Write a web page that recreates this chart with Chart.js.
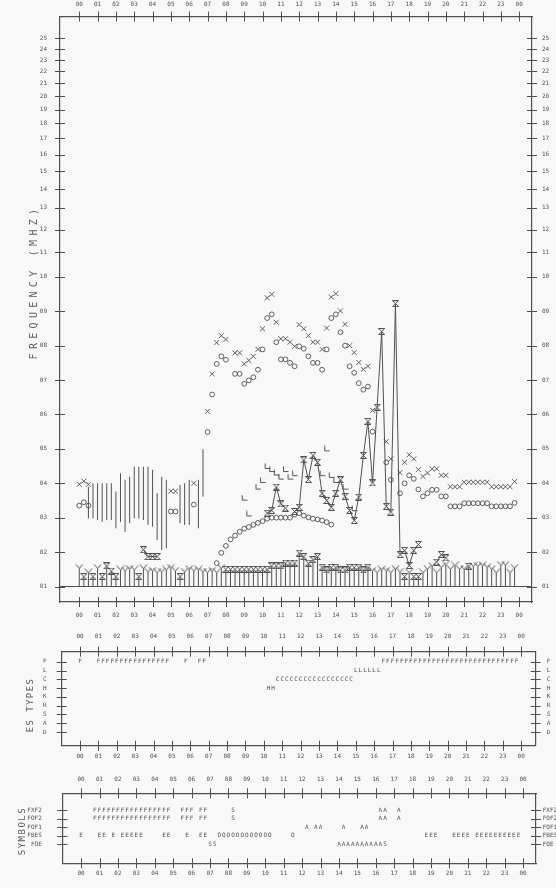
<!DOCTYPE html>
<html>
<head>
<meta charset="utf-8">
<title>Ionogram daily summary</title>
<script src="https://cdn.jsdelivr.net/npm/chart.js@4.4.1/dist/chart.umd.min.js"></script>
<style>
  html, body { margin: 0; padding: 0; background: #f8f8f8; }
  body { position: relative; width: 556px; height: 888px; overflow: hidden; }
  canvas { position: absolute; left: 0; }
  .axis-title {
    position: absolute;
    transform: translate(-50%, -50%) rotate(-90deg);
    white-space: nowrap;
    font-family: "DejaVu Sans Mono", monospace;
    color: #5c5c5c;
  }
</style>
</head>
<body>
<canvas id="ionogram" width="556" height="628" style="top:0"></canvas>
<canvas id="esTypes" width="556" height="138" style="top:628px"></canvas>
<canvas id="symbols" width="556" height="122" style="top:766px"></canvas>
<div class="axis-title" style="left:33px;top:282px;font-size:10px;letter-spacing:4.3px">FREQUENCY (MHZ)</div>
<div class="axis-title" style="left:30px;top:705px;font-size:9px;letter-spacing:1.4px">ES TYPES</div>
<div class="axis-title" style="left:22px;top:831px;font-size:9px;letter-spacing:1.5px">SYMBOLS</div>
<script>
// ---------------------------------------------------------------
// data: quarter-hourly values (96 slots, 00:00 .. 23:45), null = no reading
// ---------------------------------------------------------------
const hourTicks = [0, 1, 2, 3, 4, 5, 6, 7, 8, 9, 10, 11, 12, 13, 14, 15, 16, 17, 18, 19, 20, 21, 22, 23, 24];
const freqTicks = [1, 2, 3, 4, 5, 6, 7, 8, 9, 10, 11, 12, 13, 14, 15, 16, 17, 18, 19, 20, 21, 22, 23, 24, 25];
const esTypeNames = ['D', 'A', 'S', 'R', 'K', 'H', 'C', 'L', 'F'];
const symbolNames = ['FOE', 'FBES', 'FOF1', 'FOF2', 'FXF2'];

// fxF2 (x marks)
const fxF2 = [
  3.97, 4.06, 3.97, null,  null, null, null, null,  null, null, null, null,  null, null, null, null,
  null, null, null, null,  3.77, 3.77, null, null,  null, 4.00, null, null,  6.09, 7.18, 8.09, 8.29,
  8.18, null, 7.79, 7.79,  7.47, 7.57, 7.69, 7.89,  8.49, 9.39, 9.49, 8.68,  8.20, 8.20, 8.10, 7.98,
  8.61, 8.49, 8.29, 8.10,  8.10, 7.89, 8.51, 9.41,  9.51, 9.01, 8.62, 8.00,  7.80, 7.51, 7.31, 7.40,
  6.12, null, null, 5.21,  4.71, null, 4.31, 4.61,  4.83, 4.71, 4.40, 4.20,  4.30, 4.42, 4.42, 4.23,
  4.23, 3.90, 3.90, 3.90,  4.03, 4.03, 4.03, 4.03,  4.03, 4.03, 3.90, 3.90,  3.90, 3.90, 3.90, 4.05
];
// foF2 (circles)
const foF2 = [
  3.35, 3.45, 3.35, null,  null, null, null, null,  null, null, null, null,  null, null, null, null,
  null, null, null, null,  3.18, 3.18, null, null,  null, 3.38, null, null,  5.49, 6.58, 7.47, 7.69,
  7.59, null, 7.18, 7.18,  6.89, 6.99, 7.08, 7.30,  7.89, 8.80, 8.91, 8.10,  7.60, 7.60, 7.50, 7.40,
  7.98, 7.91, 7.69, 7.50,  7.50, 7.30, 7.89, 8.80,  8.91, 8.39, 8.00, 7.40,  7.21, 6.91, 6.72, 6.81,
  5.50, null, null, 4.61,  4.10, null, 3.71, 4.00,  4.23, 4.13, 3.82, 3.62,  3.71, 3.81, 3.81, 3.62,
  3.62, 3.33, 3.33, 3.33,  3.42, 3.42, 3.42, 3.42,  3.42, 3.42, 3.33, 3.33,  3.33, 3.33, 3.33, 3.43
];
// foF1 (circles, daytime arc)
const foF1 = [
  null, null, null, null,  null, null, null, null,  null, null, null, null,  null, null, null, null,
  null, null, null, null,  null, null, null, null,  null, null, null, null,  null, null, 1.68, 1.98,
  2.18, 2.37, 2.48, 2.59,  2.68, 2.73, 2.79, 2.85,  2.90, 2.97, 3.00, 3.00,  3.00, 3.00, 3.00, 3.09,
  3.13, 3.06, 3.01, 2.97,  2.95, 2.92, 2.87, 2.80,  null, null, null, null,  null, null, null, null,
  null, null, null, null,  null, null, null, null,  null, null, null, null,  null, null, null, null,
  null, null, null, null,  null, null, null, null,  null, null, null, null,  null, null, null, null
];
// foEs trace (hourglass marks joined by a line)
const foEs = [
  null, null, null, null,  null, null, null, null,  null, null, null, null,  null, null, 2.07, 1.87,
  1.87, 1.87, null, null,  null, null, null, null,  null, null, null, null,  null, null, null, null,
  null, null, null, null,  null, null, null, null,  null, 3.13, 3.21, 3.89,  3.40, 3.28, null, 3.18,
  3.30, 4.68, 4.11, 4.81,  4.61, 3.71, 3.50, 3.30,  3.71, 4.10, 3.62, 3.21,  2.92, 3.60, 4.81, 5.80,
  4.01, 6.21, 8.41, 3.33,  3.16, 9.22, 1.93, 2.05,  1.61, 2.05, 2.22, null,  null, null, 1.71, 1.93,
  1.83, null, null, null,  null, null, null, null,  null, null, null, null,  null, null, null, null
];
// h'-type marks drawn as small L
const lMarks = [
  null, null, null, null,  null, null, null, null,  null, null, null, null,  null, null, null, null,
  null, null, null, null,  null, null, null, null,  null, null, null, null,  null, null, null, null,
  null, null, null, null,  3.57, 3.11, null, 3.89,  4.08, 4.49, 4.40, 4.30,  4.18, 4.40, 4.18, 4.28,
  null, null, null, null,  null, 4.28, 5.00, 4.23,  4.08, null, 3.89, null,  3.26, null, null, null,
  null, null, null, null,  null, null, null, null,  null, null, null, null,  null, null, null, null,
  null, null, null, null,  null, null, null, null,  null, null, null, null,  null, null, null, null
];
// fmin (Y marks on stems from 1 MHz)
const fmin = [
  1.53, null, 1.40, null,  1.53, null, null, null,  null, 1.48, 1.45, 1.50,  1.48, null, 1.52, 1.42,
  1.45, 1.40, 1.42, 1.48,  1.53, 1.45, null, 1.42,  1.50, 1.45, 1.48, 1.42,  1.40, 1.45, 1.40, 1.53,
  null, null, null, null,  null, null, null, null,  null, null, null, null,  null, null, null, null,
  null, null, null, null,  null, null, null, null,  null, null, null, null,  null, null, null, null,
  1.45, 1.40, 1.48, 1.45,  1.40, 1.50, 1.42, null,  1.40, null, null, 1.40,  1.50, 1.59, 1.40, 1.55,
  1.63, 1.50, 1.60, 1.50,  1.50, null, 1.58, 1.58,  1.60, 1.55, 1.50, 1.40,  1.62, 1.62, 1.40, 1.53
];
// low Es (hourglass marks on stems)
const esLow = [
  null, 1.29, null, 1.29,  null, 1.29, 1.60, 1.45,  1.29, null, null, null,  null, 1.29, null, null,
  null, null, null, null,  null, null, 1.29, null,  null, null, null, null,  null, null, null, null,
  1.50, 1.50, 1.50, 1.50,  1.50, 1.50, 1.50, 1.50,  1.50, 1.50, 1.60, 1.60,  1.60, 1.68, 1.68, 1.68,
  1.97, 1.87, 1.68, 1.78,  1.87, 1.56, 1.48, 1.56,  1.56, 1.48, 1.48, 1.56,  1.56, 1.56, 1.48, 1.56,
  null, null, null, null,  null, null, null, 1.29,  null, 1.29, 1.29, null,  null, null, null, null,
  null, null, null, null,  null, 1.59, null, null,  null, null, null, null,  null, null, null, null
];
// spread F range (vertical bars), night hours only
const spreadLow = [
  null, null, 2.98, 2.98,  2.93, 2.88, 2.93, 2.93,  2.69, 2.88, 2.59, 2.84,  2.98, 2.98, 2.93, 2.79,
  2.74, 2.35, 2.06, 2.11,  null, null, 2.84, 2.79,  2.79, null, 2.69, 3.61
];
const spreadHigh = [
  null, null, 3.90, 4.00,  4.00, 4.00, 4.00, 4.00,  3.76, 4.29, 4.10, 4.19,  4.48, 4.48, 4.48, 4.48,
  4.39, 3.71, 4.19, 4.10,  null, null, 3.95, 4.00,  4.10, null, 4.10, 4.99
];

// ES types table: [start hour, letters one per quarter hour]
const esTypeF = [[0, 'F'], [1, 'F'.repeat(16)], [5.75, 'F'], [6.5, 'FF'], [16.5, 'F'.repeat(30)]];
const esTypeL = [[15, 'LLLLLL']];
const esTypeC = [[10.75, 'C'.repeat(17)]];
const esTypeH = [[10.25, 'HH']];

// qualifying / descriptive letters table
const symFxF2 = [[0.75, 'F'.repeat(17)], [5.5, 'FFF'], [6.5, 'FF'], [8.25, 'S'], [16.25, 'AA'], [17.25, 'A']];
const symFoF2 = [[0.75, 'F'.repeat(17)], [5.5, 'FFF'], [6.5, 'FF'], [8.25, 'S'], [16.25, 'AA'], [17.25, 'A']];
const symFoF1 = [[12.25, 'A'], [12.75, 'AA'], [14.25, 'A'], [15.25, 'AA']];
const symFbEs = [[0, 'E'], [1, 'EE'], [1.75, 'E'], [2.25, 'EEEEE'], [4.5, 'EE'], [5.75, 'E'], [6.5, 'EE'],
                 [7.5, 'O'.repeat(12)], [11.5, 'O'], [18.75, 'EEE'], [20.25, 'EEEE'], [21.5, 'E'.repeat(10)]];
const symFoE = [[7, 'SS'], [14, 'AAAAAAAAAAS']];

// ---------------------------------------------------------------
const INK = '#505050';
const tickFont = { family: 'DejaVu Sans Mono', size: 6 };
const two = v => String(v).padStart(2, '0');

// frequency axis: linear to 10 MHz, compressed above (decimal = share of axis height)
const FREQ_KNOTS = [
  [0.55, 0], [10, 0.5555], [11, 0.5976], [12, 0.6362], [13, 0.6732], [14, 0.7056], [15, 0.7358],
  [16, 0.7642], [17, 0.7922], [18, 0.8177], [19, 0.8410], [20, 0.8638], [21, 0.8865], [22, 0.9065],
  [23, 0.9258], [24, 0.9445], [25, 0.9633], [27, 1]
];
function freqToDecimal(f) {
  const k = FREQ_KNOTS;
  for (let i = 1; i < k.length; i++) {
    if (f <= k[i][0] || i === k.length - 1) {
      const [f0, d0] = k[i - 1], [f1, d1] = k[i];
      return d0 + (f - f0) / (f1 - f0) * (d1 - d0);
    }
  }
}
function decimalToFreq(d) {
  const k = FREQ_KNOTS;
  for (let i = 1; i < k.length; i++) {
    if (d <= k[i][1] || i === k.length - 1) {
      const [f0, d0] = k[i - 1], [f1, d1] = k[i];
      return f0 + (d - d0) / (d1 - d0) * (f1 - f0);
    }
  }
}
class FreqScale extends Chart.LinearScale {
  getPixelForValue(value) {
    return value === null || value === undefined ? NaN : this.getPixelForDecimal(freqToDecimal(value));
  }
  getValueForPixel(pixel) {
    return decimalToFreq(this.getDecimalForPixel(pixel));
  }
}
FreqScale.id = 'freq';
FreqScale.defaults = Chart.LinearScale.defaults;
Chart.register(FreqScale);

// little marker glyphs
function glyph(size, draw) {
  const c = document.createElement('canvas');
  c.width = c.height = size;
  const g = c.getContext('2d');
  g.strokeStyle = INK;
  g.lineWidth = 1;
  g.beginPath();
  draw(g);
  g.stroke();
  return c;
}
const yGlyph = glyph(9, g => { g.moveTo(1, 0.5); g.lineTo(4.5, 4.5); g.lineTo(8, 0.5); });
const hourglassGlyph = glyph(7, g => {
  g.moveTo(0.5, 0.5); g.lineTo(6.5, 0.5); g.lineTo(0.5, 6.5); g.lineTo(6.5, 6.5); g.closePath();
});
const lGlyph = glyph(7, g => { g.moveTo(1.5, 0.5); g.lineTo(1.5, 5.5); g.lineTo(6.5, 5.5); });

// helpers turning the slot arrays into points
const points = arr => arr.map((v, i) => ({ x: i / 4, y: v }));
function stems(...arrs) {
  const out = [];
  arrs.forEach(arr => arr.forEach((v, i) => {
    if (v !== null) out.push({ x: i / 4, y: 1 }, { x: i / 4, y: v }, { x: i / 4, y: null });
  }));
  return out;
}
function ranges(lo, hi) {
  const out = [];
  lo.forEach((v, i) => {
    if (v !== null) out.push({ x: i / 4, y: v }, { x: i / 4, y: hi[i] }, { x: i / 4, y: null });
  });
  return out;
}
function letters(runs, row) {
  const out = [];
  runs.forEach(([start, text]) => [...text].forEach((c, k) => out.push({ x: start + k / 4, y: row, c })));
  return out;
}

// ticks that cross the frame, plus optional 1 MHz base line
const crossTicks = {
  id: 'crossTicks',
  afterDraw(chart, args, opts) {
    const { ctx, chartArea } = chart;
    const len = opts.len || 5;
    ctx.save();
    ctx.strokeStyle = INK;
    ctx.lineWidth = 1;
    Object.values(chart.scales).forEach(s => {
      s.ticks.forEach(t => {
        const p = Math.round(s.getPixelForValue(t.value)) + 0.5;
        ctx.beginPath();
        if (s.isHorizontal()) {
          const y = s.position === 'top' ? s.bottom : s.top;
          ctx.moveTo(p, y - len); ctx.lineTo(p, y + len);
        } else {
          const x = s.position === 'left' ? s.right : s.left;
          ctx.moveTo(x - len, p); ctx.lineTo(x + len, p);
        }
        ctx.stroke();
      });
    });
    if (opts.baseline !== undefined) {
      const y = chart.scales.y.getPixelForValue(opts.baseline);
      ctx.beginPath();
      ctx.moveTo(chartArea.left, y); ctx.lineTo(chartArea.right, y);
      ctx.stroke();
    }
    ctx.restore();
  }
};

// letters drawn at the positions the scales give the points
const letterMarks = {
  id: 'letterMarks',
  afterDatasetsDraw(chart) {
    const ctx = chart.ctx;
    ctx.save();
    ctx.fillStyle = INK;
    ctx.font = '6px "DejaVu Sans Mono"';
    ctx.textAlign = 'center';
    ctx.textBaseline = 'middle';
    chart.data.datasets.forEach((ds, i) => {
      chart.getDatasetMeta(i).data.forEach((el, j) => ctx.fillText(ds.data[j].c, el.x, el.y));
    });
    ctx.restore();
  }
};

function hourAxis(position, min, max, size, pad) {
  return {
    type: 'linear', position, min, max,
    afterBuildTicks: s => { s.ticks = hourTicks.map(value => ({ value })); },
    ticks: { font: tickFont, color: INK, padding: pad, maxRotation: 0, autoSkip: false,
             callback: v => two(v % 24) },
    grid: { display: false, drawTicks: false },
    border: { display: true, color: INK, width: 1.2 },
    afterFit: s => { s.height = size; }
  };
}
function rowAxis(type, position, min, max, tickValues, label, size, pad) {
  return {
    type, position, min, max,
    afterBuildTicks: s => { s.ticks = tickValues.map(value => ({ value })); },
    ticks: { font: tickFont, color: INK, padding: pad, autoSkip: false, callback: label },
    grid: { display: false, drawTicks: false },
    border: { display: true, color: INK, width: 1.2 },
    afterFit: s => { s.width = size; }
  };
}
const baseOptions = {
  responsive: false,
  animation: false,
  devicePixelRatio: 1,
  events: [],
  layout: { padding: 0 },
  plugins: { legend: { display: false }, tooltip: { enabled: false } }
};

// ---------------- main ionogram panel ----------------
new Chart(document.getElementById('ionogram'), {
  type: 'scatter',
  data: {
    datasets: [
      { type: 'line', data: stems(fmin, esLow), borderColor: INK, borderWidth: 1, pointRadius: 0, spanGaps: false },
      { type: 'line', data: ranges(spreadLow, spreadHigh), borderColor: INK, borderWidth: 1, pointRadius: 0, spanGaps: false },
      { data: points(fmin), pointStyle: yGlyph, pointRadius: 4 },
      { data: points(esLow), pointStyle: hourglassGlyph, pointRadius: 3 },
      { type: 'line', data: points(foEs), borderColor: INK, borderWidth: 1, spanGaps: 0.6,
        pointStyle: hourglassGlyph, pointRadius: 3 },
      { data: points(foF2), pointStyle: 'circle', pointRadius: 2.4, borderColor: INK, borderWidth: 0.9,
        backgroundColor: 'rgba(0,0,0,0)' },
      { data: points(foF1), pointStyle: 'circle', pointRadius: 2.4, borderColor: INK, borderWidth: 0.9,
        backgroundColor: 'rgba(0,0,0,0)' },
      { data: points(fxF2), pointStyle: 'crossRot', pointRadius: 3.5, borderColor: INK, borderWidth: 0.9 },
      { data: points(lMarks), pointStyle: lGlyph, pointRadius: 3 }
    ]
  },
  options: {
    ...baseOptions,
    plugins: { ...baseOptions.plugins, crossTicks: { len: 5, baseline: 1 } },
    scales: {
      x: hourAxis('bottom', -1.05, 24.7, 26, 10),
      xTop: hourAxis('top', -1.05, 24.7, 16, 8.5),
      y: rowAxis('freq', 'left', 0.55, 27, freqTicks, v => two(v), 60, 13),
      yRight: rowAxis('freq', 'right', 0.55, 27, freqTicks, v => two(v), 24, 10)
    }
  },
  plugins: [crossTicks]
});

// ---------------- ES types panel ----------------
new Chart(document.getElementById('esTypes'), {
  type: 'scatter',
  data: {
    datasets: [
      { data: letters(esTypeF, 8), pointRadius: 0 },
      { data: letters(esTypeL, 7), pointRadius: 0 },
      { data: letters(esTypeC, 6), pointRadius: 0 },
      { data: letters(esTypeH, 5), pointRadius: 0 }
    ]
  },
  options: {
    ...baseOptions,
    plugins: { ...baseOptions.plugins, crossTicks: { len: 5 } },
    scales: {
      x: hourAxis('bottom', -1.0, 24.79, 20.3, 7.5),
      xTop: hourAxis('top', -1.0, 24.79, 23.7, 11.5),
      y: rowAxis('linear', 'left', -1.56, 9.14, [0, 1, 2, 3, 4, 5, 6, 7, 8], v => esTypeNames[v], 61.7, 15),
      yRight: rowAxis('linear', 'right', -1.56, 9.14, [0, 1, 2, 3, 4, 5, 6, 7, 8], v => esTypeNames[v], 20.3, 11)
    }
  },
  plugins: [crossTicks, letterMarks]
});

// ---------------- symbols panel ----------------
new Chart(document.getElementById('symbols'), {
  type: 'scatter',
  data: {
    datasets: [
      { data: letters(symFxF2, 4), pointRadius: 0 },
      { data: letters(symFoF2, 3), pointRadius: 0 },
      { data: letters(symFoF1, 2), pointRadius: 0 },
      { data: letters(symFbEs, 1), pointRadius: 0 },
      { data: letters(symFoE, 0), pointRadius: 0 }
    ]
  },
  options: {
    ...baseOptions,
    plugins: { ...baseOptions.plugins, crossTicks: { len: 5 } },
    scales: {
      x: hourAxis('bottom', -1.02, 24.7, 24.7, 6.5),
      xTop: hourAxis('top', -1.02, 24.7, 27.3, 10),
      y: rowAxis('linear', 'left', -2.235, 6.0, [0, 1, 2, 3, 4], v => symbolNames[v], 62.3, 20.5),
      yRight: rowAxis('linear', 'right', -2.235, 6.0, [0, 1, 2, 3, 4], v => symbolNames[v], 20, 6.7)
    }
  },
  plugins: [crossTicks, letterMarks]
});
</script>
</body>
</html>
